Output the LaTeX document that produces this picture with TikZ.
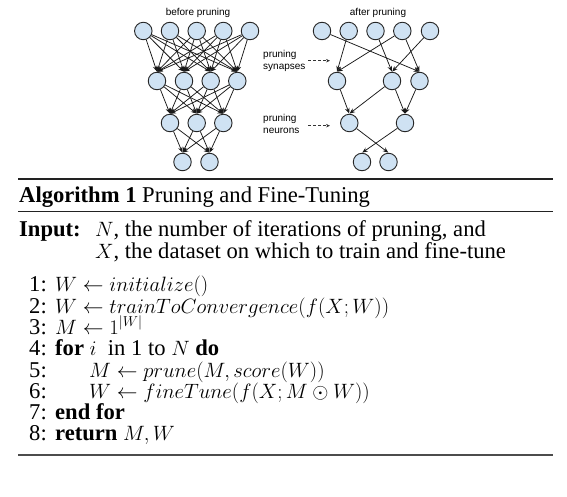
\documentclass[tikz,border=0pt]{standalone}
\usepackage{fontspec}
\setmainfont{Liberation Serif}
\newfontfamily\labelfont{Liberation Sans}
\usetikzlibrary{arrows.meta}
\definecolor{neuron}{HTML}{CFE2F3}
\definecolor{ruleclr}{HTML}{222222}
\tikzset{
  x=1pt, y=-1pt,
  neu/.style={circle, draw=black!85, line width=0.9pt, fill=neuron, minimum size=17.5pt, inner sep=0pt},
  syn/.style={-{Stealth[length=5.5pt,width=4.5pt]}, line width=0.75pt, black!90, shorten >=0.3pt},
  lbl/.style={font=\labelfont\fontsize{10}{12}\selectfont, inner sep=0pt, align=left},
  dasharrow/.style={-{Stealth[length=4pt,width=3.5pt]}, dashed, dash pattern=on 3pt off 2pt, line width=0.7pt, black!80},
  alg/.style={font=\fontsize{22.6}{22}\selectfont, inner sep=0pt, anchor=base west},
  num/.style={font=\fontsize{22.6}{22}\selectfont, inner sep=0pt, anchor=base east},
}
\begin{document}
\begin{tikzpicture}
\useasboundingbox[fill=white] (0,0) rectangle (567,497);
% ---- before pruning ----
\node[lbl] (tb) at (198,13) {before pruning};
\foreach \i/\x in {1/143.3,2/170,3/196.7,4/223.3,5/250}
  \node[neu] (a\i) at (\x,31) {};
\foreach \i/\x in {1/157,2/184,3/210.7,4/237.3}
  \node[neu] (b\i) at (\x,81) {};
\foreach \i/\x in {1/170,2/196.7,3/223.3}
  \node[neu] (c\i) at (\x,123) {};
\foreach \i/\x in {1/182.5,2/209.5}
  \node[neu] (d\i) at (\x,162) {};
\foreach \i in {1,...,5}
  \foreach \j in {1,...,4}
    \draw[syn] (a\i) -- (b\j.north);
\foreach \i in {1,...,4}
  \foreach \j in {1,...,3}
    \draw[syn] (b\i) -- (c\j.north);
\foreach \i in {1,...,3}
  \foreach \j in {1,...,2}
    \draw[syn] (c\i) -- (d\j.north);
% ---- after pruning ----
\node[lbl] (ta) at (378,13) {after pruning};
\foreach \i/\x in {1/322,2/348.7,3/375.5,4/402.3,5/430}
  \node[neu] (p\i) at (\x,31) {};
\foreach \i/\x in {1/337,2/392,3/419.5}
  \node[neu] (q\i) at (\x,81) {};
\foreach \i/\x in {1/349.3,2/405}
  \node[neu] (r\i) at (\x,123) {};
\foreach \i/\x in {1/362,2/388.5}
  \node[neu] (s\i) at (\x,162) {};
\draw[syn] (p1) -- (q3.north);
\draw[syn] (p2) -- (q1.north);
\draw[syn] (p3) -- (q2.north);
\draw[syn] (p4) -- (q1.north);
\draw[syn] (p4) -- (q3.north);
\draw[syn] (p5) -- (q2.north);
\draw[syn] (q1) -- (r1.north);
\draw[syn] (q2) -- (r1.north);
\draw[syn] (q2) -- (r2.north);
\draw[syn] (q3) -- (r2.north);
\draw[syn] (r1) -- (s2.north);
\draw[syn] (r2) -- (s1.north);
% labels
\node[lbl, anchor=west] (ls) at (263,61) {pruning\\synapses};
\node[lbl, anchor=west] (ln) at (263,124) {pruning\\neurons};
\coordinate (ls1) at (308,60.7);
\coordinate (ls2) at (330,60.7);
\coordinate (ln1) at (308,125.7);
\coordinate (ln2) at (330,125.7);
\draw[dasharrow] (ls1) -- (ls2);
\draw[dasharrow] (ln1) -- (ln2);
% ---- algorithm ----
\coordinate (r1l) at (18,179); \coordinate (r1r) at (553,179);
\coordinate (r2l) at (18,211); \coordinate (r2r) at (553,211);
\coordinate (r3l) at (18,455); \coordinate (r3r) at (553,455);
\draw[line width=1.8pt, ruleclr] (r1l) -- (r1r);
\draw[line width=0.9pt, ruleclr] (r2l) -- (r2r);
\draw[line width=1.2pt, black!70] (r3l) -- (r3r);
\node[alg] (title) at (19,202.5) {\textbf{Algorithm 1} Pruning and Fine-Tuning};
\node[alg] (inp) at (19,236) {\textbf{Input:}};
\node[alg] (in1) at (95,236) {$N$, the number of iterations of pruning, and};
\node[alg] (in2) at (95,258) {$X$, the dataset on which to train and fine-tune};
\foreach \k/\yy in {1/291.5,2/313,3/334.5,4/355.5,5/377,6/398.5,7/419.5,8/440.5}
  \node[num] (n\k) at (47,\yy) {\k:};
\node[alg] (l1) at (55,291.5) {$W \leftarrow initialize()$};
\node[alg] (l2) at (55,313) {$W \leftarrow trainToConvergence(f(X;W))$};
\node[alg] (l3) at (55,334.5) {$M \leftarrow 1^{|W|}$};
\node[alg] (l4) at (55,355.5) {\textbf{for} $i$ \ in 1 to $N$ \textbf{do}};
\node[alg] (l5) at (89,377) {$M \leftarrow prune(M,score(W))$};
\node[alg] (l6) at (89,398.5) {$W \leftarrow fineTune(f(X;M\odot W))$};
\node[alg] (l7) at (55,419.5) {\textbf{end for}};
\node[alg] (l8) at (55,440.5) {\textbf{return} $M,W$};
\end{tikzpicture}
\end{document}
